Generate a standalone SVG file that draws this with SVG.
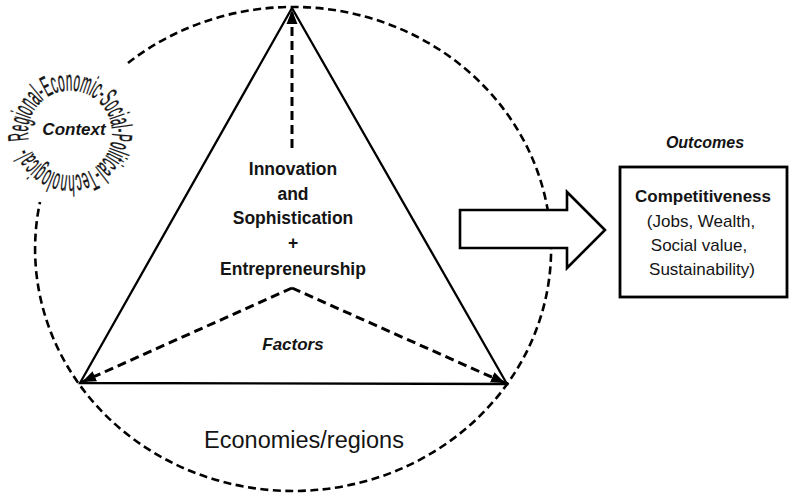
<svg xmlns="http://www.w3.org/2000/svg" width="789" height="495" viewBox="0 0 789 495">
<style>
.ell{fill:none;stroke:#000;stroke-width:2.6;stroke-dasharray:8 4.5}
.tri{fill:none;stroke:#000;stroke-width:2.3;stroke-linejoin:miter}
.dash{fill:none;stroke:#000;stroke-width:3;stroke-dasharray:9 5}
.block{fill:#fff;stroke:#000;stroke-width:2.6;stroke-linejoin:miter}
.box{fill:#fff;stroke:#000;stroke-width:2.8}
.t{font-family:"Liberation Sans",Arial,sans-serif;fill:#141414;text-anchor:middle}
.b{font-weight:bold}
.i{font-style:italic}
.ring{font-family:"Liberation Sans",Arial,sans-serif;font-size:29px;fill:#141414;stroke:#141414;stroke-width:0.4}
</style>
<defs>
<marker id="ah" markerUnits="userSpaceOnUse" markerWidth="14" markerHeight="12" viewBox="0 0 14 12" refX="14" refY="6" orient="auto">
<path d="M0,0.5 L14,6 L0,11.5 Z" fill="#000"/>
</marker>
<path id="ringpath" d="M28.64,140.29 A42,42 0 1 1 111.36,125.71 A42,42 0 1 1 28.64,140.29"/>
</defs>

<g id="context">
<path class="ell" d="M128,63 A258,242 0 1 1 40,202"/>
<text class="ring"><textPath href="#ringpath" textLength="258" lengthAdjust="spacingAndGlyphs">Regional-Economic-Social-Political-Technological-</textPath></text>
<text class="t b i" x="74" y="135" font-size="17">Context</text>
</g>

<g id="triangle">
<path class="tri" d="M292,8 L80,383 L507,384 Z"/>
</g>

<g id="innovation">
<text class="t b" font-size="17.5" x="293"><tspan x="293" y="175">Innovation</tspan><tspan x="293" y="200">and</tspan><tspan x="293" y="224">Sophistication</tspan><tspan x="293" y="249">+</tspan><tspan x="293" y="275">Entrepreneurship</tspan></text>
</g>

<g id="factors">
<text class="t b i" x="293" y="350" font-size="17">Factors</text>
</g>

<g id="economies">
<text class="t" x="304" y="448" font-size="23.5">Economies/regions</text>
</g>

<g id="outcomes">
<text class="t b i" x="705" y="148" font-size="16">Outcomes</text>
<rect class="box" x="620" y="167" width="167" height="130"/>
<text class="t b" x="703" y="202" font-size="17">Competitiveness</text>
<text class="t" font-size="17"><tspan x="701" y="227">(Jobs, Wealth,</tspan><tspan x="699" y="251">Social value,</tspan><tspan x="702" y="275">Sustainability)</tspan></text>
</g>

<g id="connectors">
<path class="dash" d="M292,148 L292,10" marker-end="url(#ah)"/>
<path class="dash" d="M292,288 L82,382" marker-end="url(#ah)"/>
<path class="dash" d="M292,288 L505,383" marker-end="url(#ah)"/>
<polygon class="block" points="460,210 567,210 567,192 605,230 567,268 567,248 460,248"/>
</g>
</svg>
